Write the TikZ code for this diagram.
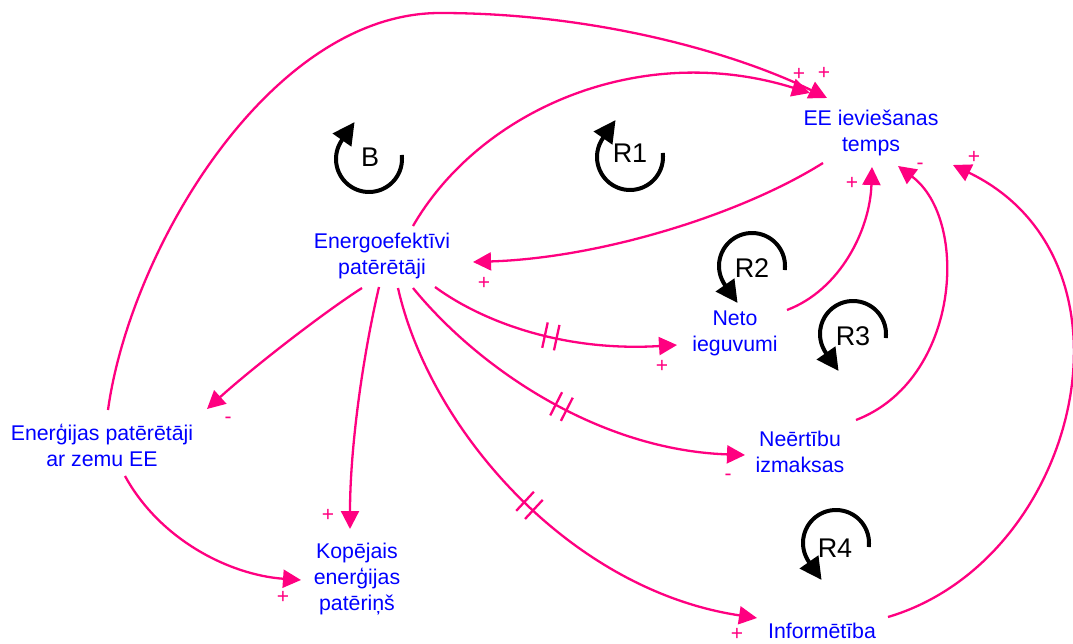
\documentclass[tikz,border=0pt]{standalone}
\usepackage{fontspec}
\setmainfont{Liberation Sans}
\usetikzlibrary{arrows.meta,calc,decorations.markings}
\definecolor{lnk}{RGB}{255,0,128}
\definecolor{txt}{RGB}{0,0,255}
\begin{document}
\begin{tikzpicture}[x=1pt,y=-1pt,
  var/.style={text=txt, align=center, font=\fontsize{21.3}{26}\selectfont, inner sep=0pt},
  link/.style={draw=lnk, line width=2.3pt, -{Triangle[length=18pt,width=18pt]}},
  pol/.style={text=lnk, font=\fontsize{21}{21}\selectfont, inner sep=0pt},
  loopc/.style={draw=black, line width=4pt, -{Triangle[length=22pt,width=22pt]}},
  looplab/.style={font=\fontsize{27}{27}\selectfont, inner sep=0pt},
  delaymark/.style={postaction={decorate, decoration={markings,
      mark=at position #1 with {\draw[lnk, line width=2.3pt, -] (-6,-13)--(-6,13) (6,-13)--(6,13);}}}}
]
\useasboundingbox (0,0) rectangle (1073,644);

% variables
\node[var] (ee)    at (871,133) {EE ieviešanas\\temps};
\node[var] (ep)    at (382,256) {Energoefektīvi\\patērētāji};
\node[var] (neto)  at (735,333) {Neto\\ieguvumi};
\node[var] (neert) at (800,452) {Neērtību\\izmaksas};
\node[var] (inf)   at (822,631) {Informētība};
\node[var] (lowee) at (102,445) {Enerģijas patērētāji\\ar zemu EE};
\node[var] (kop)   at (357,579) {Kopējais\\enerģijas\\patēriņš};

% links
\draw[link] ($(ep)+(31,-30)$) .. controls (480,110) and (640,40) .. ($(ee)+(-61,-40)$);
\draw[link] ($(lowee)+(6,-35)$) .. controls (130,250) and (270,13) .. (440,13)
            .. controls (600,13) and (740,55) .. ($(ee)+(-44,-35)$);
\draw[link] ($(ee)+(-48,30)$) .. controls (740,215) and (600,258) .. ($(ep)+(91,6)$);
\draw[link, delaymark=0.5] ($(ep)+(53,31)$) .. controls (480,320) and (560,352) .. ($(neto)+(-58,12)$);
\draw[link] ($(neto)+(52,-23)$) .. controls (840,290) and (870,230) .. ($(ee)+(1,34)$);
\draw[link, delaymark=0.5] ($(ep)+(31,32)$) .. controls (480,370) and (600,450) .. ($(neert)+(-55,3)$);
\draw[link] ($(neert)+(56,-32)$) .. controls (960,380) and (970,220) .. ($(ee)+(27,33)$);
\draw[link, delaymark=0.5] ($(ep)+(16,32)$) .. controls (430,430) and (570,590) .. ($(inf)+(-65,-13)$);
\draw[link] ($(inf)+(66,-14)$) .. controls (1080,560) and (1150,260) .. ($(ee)+(82,32)$);
\draw[link] ($(ep)+(-20,32)$) .. controls (320,315) and (250,370) .. ($(lowee)+(105,-36)$);
\draw[link] ($(ep)+(-3,31)$) .. controls (362,360) and (350,450) .. ($(kop)+(-7,-50)$);
\draw[link] ($(lowee)+(23,31)$) .. controls (160,540) and (230,575) .. ($(kop)+(-56,1)$);

% polarities
\node[pol] (p1)  at (799,74)  {+};
\node[pol] (p2)  at (824,73)  {+};
\node[pol] (p3)  at (484,283) {+};
\node[pol] (p4)  at (662,366) {+};
\node[pol] (p5)  at (852,183) {+};
\node[pol] (p6)  at (728,477) {-};
\node[pol] (p7)  at (920,166) {-};
\node[pol] (p8)  at (737,634) {+};
\node[pol] (p9)  at (974,157) {+};
\node[pol] (p10) at (228,420) {-};
\node[pol] (p11) at (328,515) {+};
\node[pol] (p12) at (283,597) {+};

% loop symbols
\draw[loopc] (369,159) ++(-7:33) arc[start angle=-7, end angle=215, radius=33] -- ++(12.6,-18);
\node[looplab] (lb) at (370,157) {B};
\draw[loopc] (630,157) ++(-7:33) arc[start angle=-7, end angle=215, radius=33] -- ++(12.6,-18);
\node[looplab] (lr1) at (630,153) {R1};
\draw[loopc] (752,266) ++(7:33) arc[start angle=7, end angle=-215, radius=33] -- ++(12.6,18);
\node[looplab] (lr2) at (752,268) {R2};
\draw[loopc] (853,334) ++(7:33) arc[start angle=7, end angle=-215, radius=33] -- ++(12.6,18);
\node[looplab] (lr3) at (853,336) {R3};
\draw[loopc] (836,543) ++(7:33) arc[start angle=7, end angle=-215, radius=33] -- ++(12.6,18);
\node[looplab] (lr4) at (835,548) {R4};
\end{tikzpicture}
\end{document}
